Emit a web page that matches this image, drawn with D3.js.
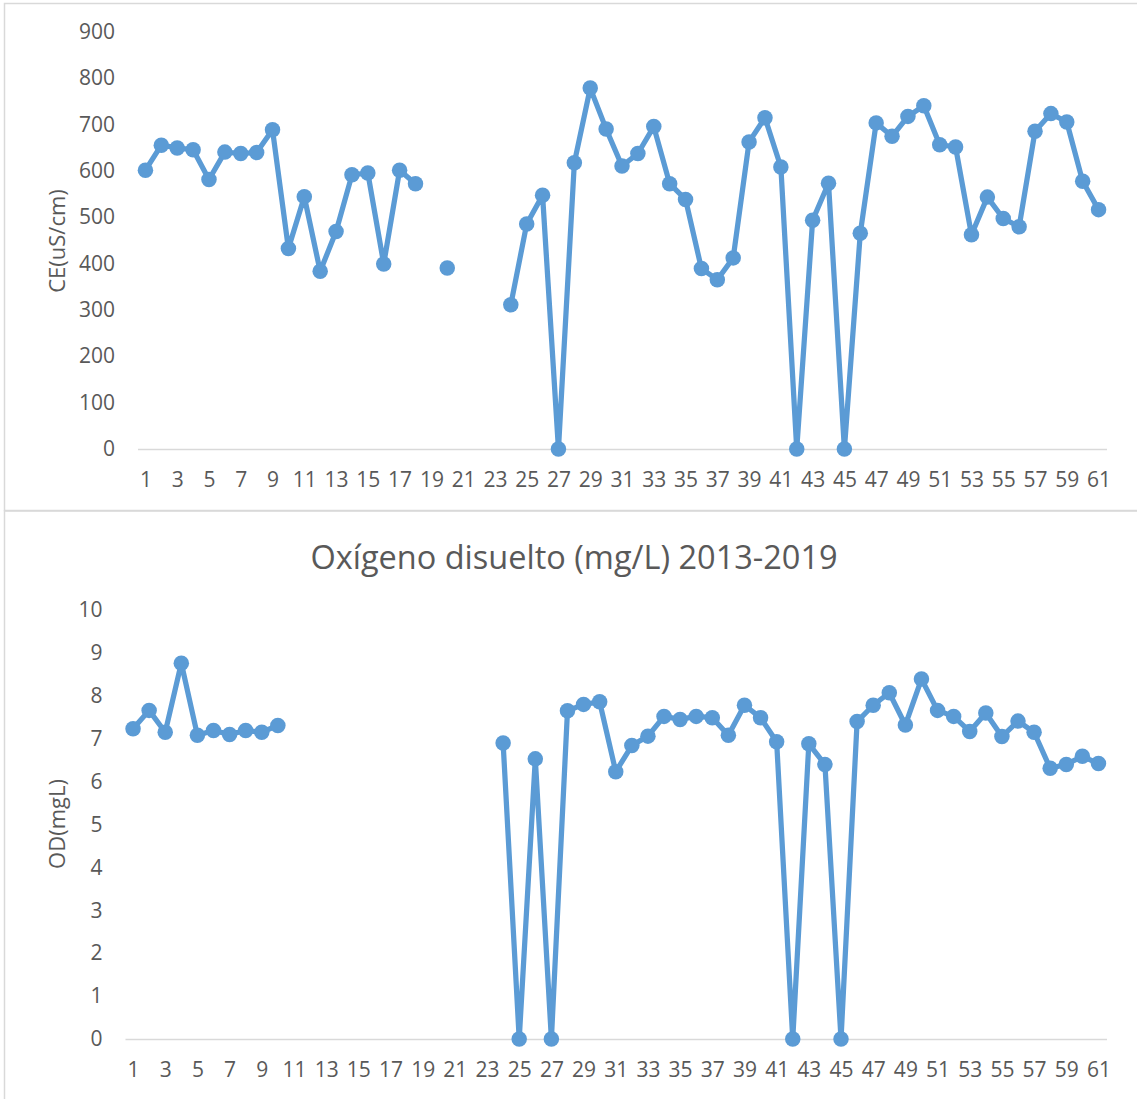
<!DOCTYPE html>
<html>
<head>
<meta charset="utf-8">
<script src="https://cdn.jsdelivr.net/npm/d3@7"></script>
<style>
  html, body { margin: 0; padding: 0; background: #ffffff; }
  svg { display: block; }
  text { font-family: "Open Sans", "Noto Sans", sans-serif; fill: #595959; }
</style>
</head>
<body>
<svg id="chart" width="1137" height="1099"></svg>
<script>
// Sampling points (1..61)
const categories = d3.range(1, 62);
const xTickLabels = categories.filter(c => c % 2 === 1);

// Electrical conductivity, uS/cm (null = no sample)
const ceValues = [
  601, 655, 649, 645, 581, 640, 637, 639, 688, 432,
  544, 383, 469, 591, 595, 399, 601, 572, null, 390,
  null, null, null, 311, 485, 547, 0, 617, 778, 690,
  610, 637, 695, 572, 538, 389, 365, 412, 662, 714,
  608, 0, 493, 573, 0, 465, 703, 674, 717, 740,
  656, 651, 462, 543, 497, 479, 685, 723, 705, 577,
  516
];
const ceTicks = [0, 100, 200, 300, 400, 500, 600, 700, 800, 900];

// Dissolved oxygen, mg/L (null = no sample)
const odValues = [
  7.23, 7.66, 7.15, 8.76, 7.08, 7.19, 7.10, 7.19, 7.15, 7.31,
  null, null, null, null, null, null, null, null, null, null,
  null, null, null, 6.90, 0, 6.53, 0, 7.65, 7.80, 7.86,
  6.23, 6.84, 7.06, 7.52, 7.45, 7.52, 7.49, 7.08, 7.78, 7.49,
  6.93, 0, 6.88, 6.40, 0, 7.40, 7.78, 8.07, 7.32, 8.39,
  7.66, 7.52, 7.17, 7.60, 7.05, 7.41, 7.15, 6.31, 6.40, 6.59,
  6.42
];
const odTicks = [0, 1, 2, 3, 4, 5, 6, 7, 8, 9, 10];

const COLOR = "#5B9BD5";
const GRID = "#D9D9D9";

const svg = d3.select("#chart");

// Chart frames
svg.append("rect").attr("x", 4.5).attr("y", 3.5).attr("width", 1140).attr("height", 507)
  .attr("fill", "none").attr("stroke", GRID).attr("stroke-width", 1.5);
svg.append("rect").attr("x", 4.5).attr("y", 511).attr("width", 1140).attr("height", 600)
  .attr("fill", "none").attr("stroke", GRID).attr("stroke-width", 1.5);

function drawPanel(cfg) {
  const x = d3.scalePoint().domain(categories).range([cfg.left, cfg.right]).padding(0.5);
  const y = d3.scaleLinear().domain([0, cfg.max]).range([cfg.bottom, cfg.top]);
  const g = svg.append("g");

  // category axis
  const xa = g.append("g").attr("transform", `translate(0,${cfg.bottom})`)
    .call(d3.axisBottom(x).tickValues(xTickLabels).tickSize(0).tickSizeOuter(0).tickPadding(23));
  xa.attr("font-family", null);
  xa.select(".domain").attr("stroke", GRID).attr("stroke-width", 1.5);
  xa.selectAll("text").attr("font-size", 21).attr("fill", "#595959");

  // value axis
  const ya = g.append("g").attr("transform", `translate(${cfg.left},0)`)
    .call(d3.axisLeft(y).tickValues(cfg.ticks).tickSize(0).tickPadding(22.5));
  ya.attr("font-family", null);
  ya.select(".domain").remove();
  ya.selectAll("text").attr("font-size", 21).attr("fill", "#595959");

  // axis title
  g.append("text")
    .attr("transform", `translate(${cfg.titleX},${cfg.titleY}) rotate(-90)`)
    .attr("text-anchor", "middle").attr("dy", "0.35em")
    .attr("font-size", 22)
    .text(cfg.yTitle);

  const pts = categories.map((c, i) => ({ c, v: cfg.values[i] }));
  const line = d3.line()
    .defined(d => d.v !== null)
    .x(d => x(d.c)).y(d => y(d.v));

  g.append("path").datum(pts)
    .attr("d", line)
    .attr("fill", "none").attr("stroke", COLOR)
    .attr("stroke-width", 5.25).attr("stroke-linejoin", "round");

  g.selectAll("circle.m").data(pts.filter(d => d.v !== null)).enter()
    .append("circle").attr("class", "m")
    .attr("cx", d => x(d.c)).attr("cy", d => y(d.v)).attr("r", 7.75)
    .attr("fill", COLOR);
}

drawPanel({
  values: ceValues, max: 900, ticks: ceTicks,
  left: 137.5, right: 1106.5, top: 31.5, bottom: 449,
  yTitle: "CE(uS/cm)", titleX: 57, titleY: 241
});

drawPanel({
  values: odValues, max: 10, ticks: odTicks,
  left: 125, right: 1106.5, top: 610, bottom: 1039,
  yTitle: "OD(mgL)", titleX: 57, titleY: 824
});

svg.append("text")
  .attr("x", 574).attr("y", 568.5)
  .attr("text-anchor", "middle")
  .attr("font-size", 32.5)
  .text("Oxígeno disuelto (mg/L) 2013-2019");
</script>
</body>
</html>
